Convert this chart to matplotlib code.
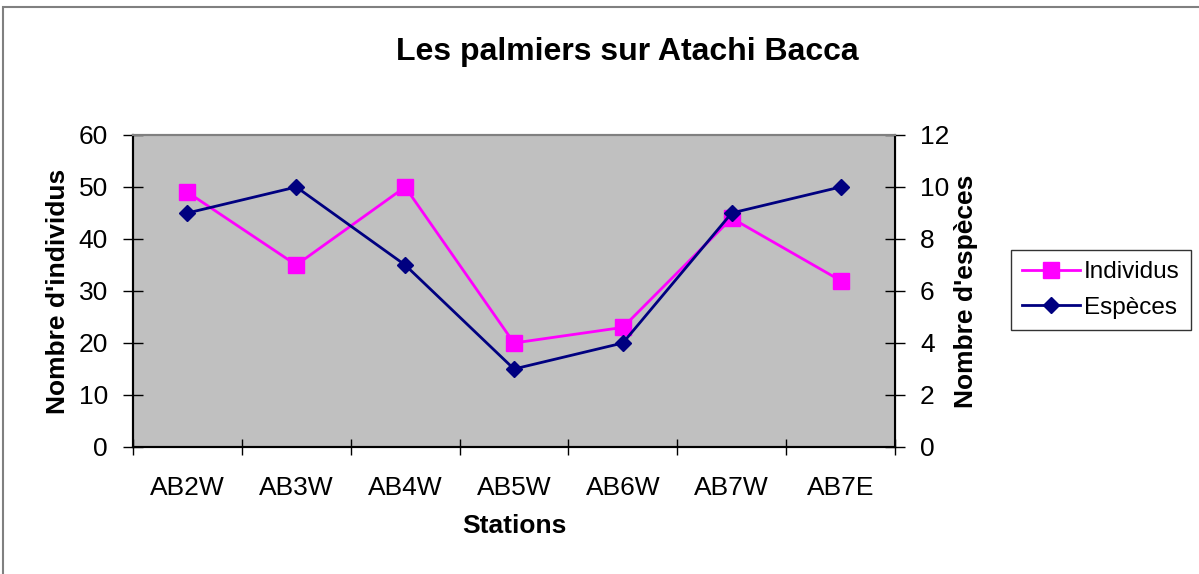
import matplotlib.pyplot as plt
from matplotlib.patches import Rectangle

plt.rcParams['font.family'] = ['Liberation Sans', 'DejaVu Sans']

stations = ['AB2W', 'AB3W', 'AB4W', 'AB5W', 'AB6W', 'AB7W', 'AB7E']
individus = [49, 35, 50, 20, 23, 44, 32]
especes = [9, 10, 7, 3, 4, 9, 10]

fig = plt.figure(figsize=(11.99, 5.74), dpi=100)
# outer chart border (bottom/right fall outside the image, like the original)
fig.patches.append(Rectangle((3 / 1199, -0.05), 1.2, 1.05 - 7 / 574, transform=fig.transFigure,
                             fill=False, edgecolor='#808080', linewidth=1.5))

ax = fig.add_axes([133 / 1199, 1 - 447 / 574, (895 - 133) / 1199, (447 - 135) / 574])
ax.set_facecolor('#C0C0C0')
ax2 = ax.twinx()

x = range(len(stations))
l1, = ax.plot(x, individus, color='#FF00FF', marker='s', markersize=11, linewidth=2, label='Individus')
l2, = ax2.plot(x, especes, color='#000080', marker='D', markersize=8, linewidth=2, label='Espèces')

ax.set_xlim(-0.5, len(stations) - 0.5)
ax.set_ylim(0, 60)
ax2.set_ylim(0, 12)
ax.set_yticks(range(0, 61, 10))
ax2.set_yticks(range(0, 13, 2))
ax.set_xticks([i - 0.5 for i in range(len(stations) + 1)])
ax.set_xticklabels([])
ax.set_xticks(list(x), minor=True)
ax.set_xticklabels(stations, minor=True)
ax.tick_params(axis='x', which='major', direction='inout', length=12, width=1)
ax.tick_params(axis='x', which='minor', length=0, labelsize=19, pad=21)
ax.tick_params(axis='y', direction='inout', length=14, width=1, labelsize=19, pad=11)
ax2.tick_params(axis='y', direction='inout', length=14, width=1, labelsize=19, pad=11)

for a in (ax, ax2):
    a.spines['top'].set_color('#808080')
    a.spines['top'].set_linewidth(1.5)
    a.spines['left'].set_linewidth(1.5)
    a.spines['bottom'].set_linewidth(1.5)
ax2.spines['right'].set_linewidth(1.5)

ax.set_xlabel('Stations', fontsize=19, fontweight='bold', labelpad=10)
ax.set_ylabel("Nombre d'individus", fontsize=19, fontweight='bold', labelpad=6)
ax2.set_ylabel("Nombre d'espèces", fontsize=19, fontweight='bold', labelpad=3)

fig.text(627 / 1199, 1 - 52 / 574, 'Les palmiers sur Atachi Bacca', fontsize=23, fontweight='bold',
         ha='center', va='center')

leg = fig.legend(handles=[l1, l2], loc='center', bbox_to_anchor=(1101 / 1199, 1 - 290 / 574),
                 fontsize=17.5, frameon=True, fancybox=False, edgecolor='black', handlelength=2.4,
                 borderpad=0.45, labelspacing=0.55, handletextpad=0.15, borderaxespad=0)
leg.get_frame().set_linewidth(1)

fig.savefig('out.png', dpi=100)
